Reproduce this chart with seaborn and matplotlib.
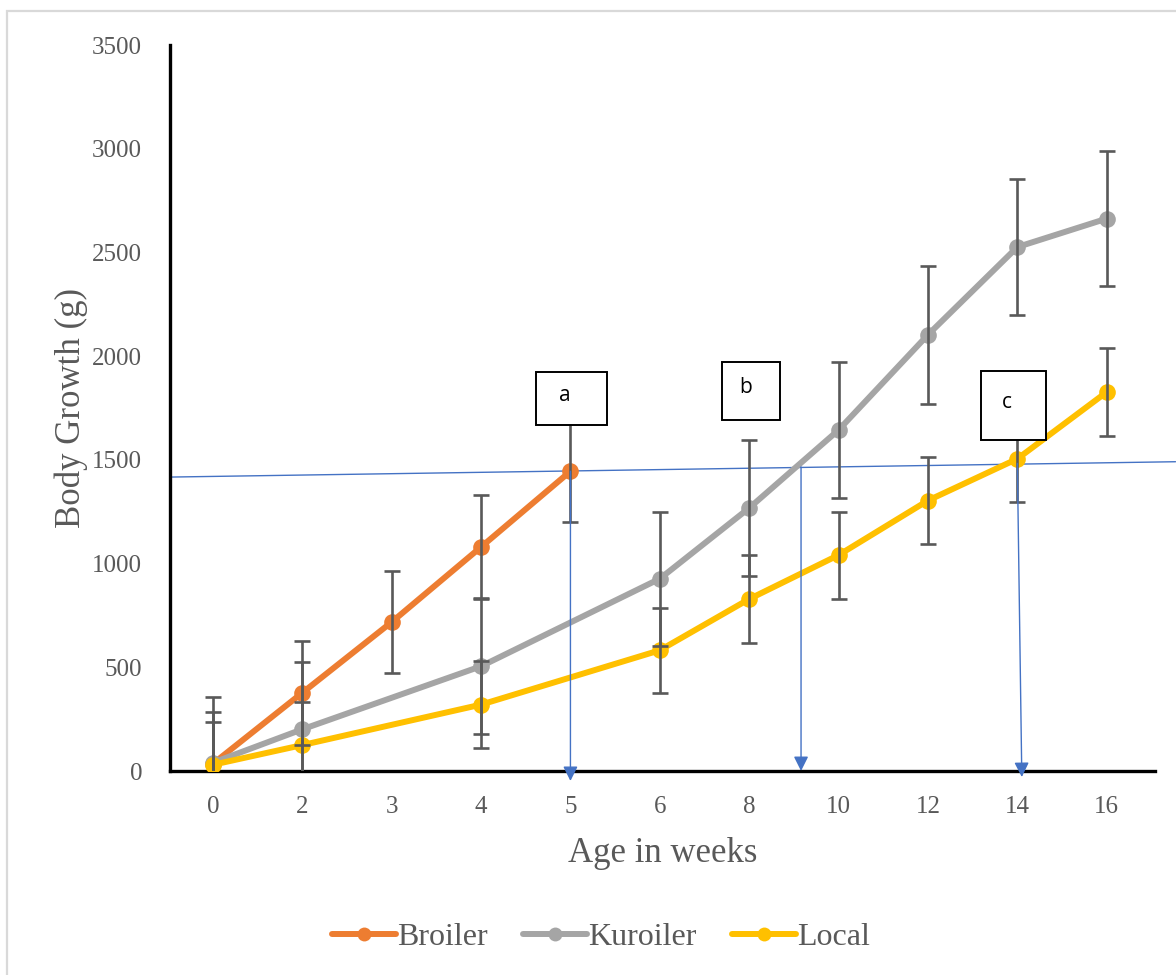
import numpy as np
import pandas as pd
import matplotlib
matplotlib.use("Agg")
import matplotlib.pyplot as plt
from matplotlib.patches import Rectangle
from matplotlib.lines import Line2D
import seaborn as sns

# ---------------- data ----------------
weeks = ["0", "2", "3", "4", "5", "6", "8", "10", "12", "14", "16"]
broiler = [35, 377, 718, 1080, 1445, np.nan, np.nan, np.nan, np.nan, np.nan, np.nan]
broiler_err = [251, 252, 247, 252, 243, np.nan, np.nan, np.nan, np.nan, np.nan, np.nan]
kuroiler = [40, 201, np.nan, 505, np.nan, 927, 1268, 1644, 2103, 2526, 2663]
kuroiler_err = [318, 326, np.nan, 328, np.nan, 323, 328, 329, 332, 330, 326]
local = [30, 125, np.nan, 320, np.nan, 582, 829, 1041, 1304, 1505, 1827]
local_err = [208, 210, np.nan, 208, np.nan, 205, 210, 210, 210, 207, 210]

series_names = ["Broiler", "Kuroiler", "Local"]
colors = ["#ED7D31", "#A5A5A5", "#FFC000"]

# annotation boxes (label, x0, x1, y0, y1 in data units)
box_labels = ["a", "b", "c"]
box_x0 = [3.62, 5.70, 8.59]
box_x1 = [4.41, 6.34, 9.32]
box_y0 = [1668, 1692, 1596]
box_y1 = [1924, 1972, 1928]

# blue guide lines
guide_x = [-0.48, 10.77]
guide_y = [1417, 1491]
arrow_x_top = [4.0, 6.58, 9.0]
arrow_x_bot = [4.0, 6.58, 9.05]
arrow_y_top = [1445, 1466, 1483]
arrow_y_tip = [-48, 0, -29]

# ---------------- build table ----------------
pos = np.arange(len(weeks))
rows = []
for name, vals, errs in zip(series_names, [broiler, kuroiler, local],
                            [broiler_err, kuroiler_err, local_err]):
    for p, v, e in zip(pos, vals, errs):
        if not np.isnan(v):
            rows.append({"pos": p, "value": v, "err": e, "breed": name})
df = pd.DataFrame(rows)

# ---------------- plot ----------------
sns.set_theme(style="white")
plt.rcParams["font.family"] = ["Liberation Serif", "DejaVu Serif"]

fig = plt.figure(figsize=(11.76, 9.75), dpi=100)
ax = fig.add_axes([170 / 1176, 1 - 771 / 975, (1155 - 170) / 1176, (771 - 45) / 975])

BLUE = "#4472C4"
# horizontal guide line
ax.plot(guide_x, guide_y, color=BLUE, lw=1.0, clip_on=False, zorder=1)

sns.lineplot(data=df, x="pos", y="value", hue="breed", palette=colors,
             hue_order=series_names, marker="o", markersize=12,
             markeredgewidth=0, linewidth=4.3, ax=ax, legend=False,
             zorder=3, sort=True)

for name in series_names:
    sub = df[df.breed == name]
    ax.errorbar(sub["pos"], sub["value"], yerr=sub["err"], fmt="none",
                ecolor="#595959", elinewidth=1.9, capsize=6, capthick=1.9,
                zorder=4)

# vertical arrows
for xt, xb, yt, yb in zip(arrow_x_top, arrow_x_bot, arrow_y_top, arrow_y_tip):
    ax.annotate("", xy=(xb, yb), xytext=(xt, yt),
                arrowprops=dict(arrowstyle="-|>", color=BLUE, lw=1.0,
                                mutation_scale=22, shrinkA=0, shrinkB=0),
                annotation_clip=False, zorder=6)

# label boxes
for lab, x0, x1, y0, y1 in zip(box_labels, box_x0, box_x1, box_y0, box_y1):
    ax.add_patch(Rectangle((x0, y0), x1 - x0, y1 - y0, facecolor="white",
                           edgecolor="black", lw=1.4, zorder=7))
    ax.text(x0 + (x1 - x0) * 0.40, (y0 + y1) / 2 + 15, lab,
            family=["Open Sans", "DejaVu Sans"], fontsize=15,
            ha="center", va="center", color="black", zorder=8)

ax.set_xlim(-0.48, 10.54)
ax.set_ylim(0, 3500)
ax.set_xticks(pos)
ax.set_xticklabels(weeks)
ax.set_yticks(np.arange(0, 3501, 500))

ax.tick_params(axis="both", length=0, labelsize=18, labelcolor="#595959")
ax.tick_params(axis="y", pad=20)
ax.tick_params(axis="x", pad=18)

ax.set_xlabel("Age in weeks", fontsize=25, color="#595959", labelpad=14)
ax.set_ylabel("Body Growth (g)", fontsize=25, color="#595959", labelpad=3)

for side in ["top", "right"]:
    ax.spines[side].set_visible(False)
for side in ["left", "bottom"]:
    ax.spines[side].set_color("black")
    ax.spines[side].set_linewidth(2.4)
ax.grid(False)

# legend
handles = [Line2D([0], [0], color=c, lw=4.3, marker="o", markersize=10,
                  markeredgewidth=0) for c in colors]
fig.legend(handles, series_names, loc="center", bbox_to_anchor=(0.511, 1 - 937 / 975),
           ncol=3, frameon=False, fontsize=23, handlelength=2.0,
           handletextpad=0.05, columnspacing=1.1, labelcolor="#595959")

# chart-area border
fig.patches.append(Rectangle((7 / 1176, -0.05), 1.1, 1 - 11 / 975 + 0.05,
                             transform=fig.transFigure, fill=False,
                             edgecolor="#D9D9D9", lw=1.6, zorder=0))

fig.savefig("out.png", dpi=100)
